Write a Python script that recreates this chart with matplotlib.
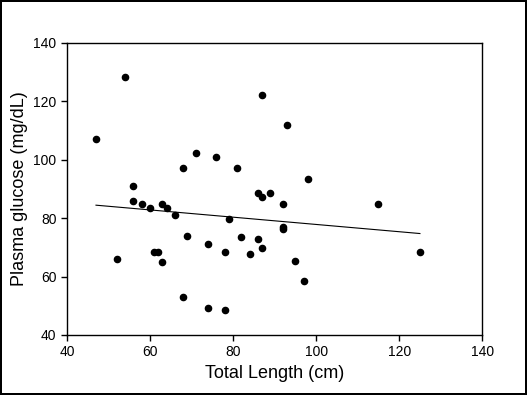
import matplotlib
matplotlib.use("Agg")
import matplotlib.pyplot as plt

# data
total_length = [47, 54, 56, 56, 58, 60, 63, 64, 66, 52, 61, 62, 63,
                68, 71, 76, 81, 87, 86, 87, 89, 93, 98, 69, 74, 78,
                79, 82, 84, 86, 87, 68, 74, 78, 92, 115, 92, 92, 95,
                97, 125]
glucose = [107.1, 128.3, 90.9, 85.9, 84.8, 83.5, 84.8, 83.5, 81.0, 66.0,
           68.5, 68.5, 64.9, 97.1, 102.2, 100.9, 97.1, 122.1, 88.4, 87.2,
           88.4, 112.0, 93.4, 74.0, 71.0, 68.5, 79.7, 73.6, 67.7, 72.8,
           69.8, 52.9, 49.1, 48.6, 84.8, 84.8, 77.0, 76.1, 65.3, 58.6,
           68.5]
fit_x = [47, 125]
fit_y = [84.4, 74.7]

plt.rcParams["font.family"] = ["Liberation Sans", "DejaVu Sans"]

fig = plt.figure(figsize=(5.27, 3.95), dpi=100, linewidth=1.5, edgecolor="black")
ax = fig.add_axes([0.127, 0.152, 0.788, 0.74])

ax.scatter(total_length, glucose, s=20, color="black", zorder=3)
ax.plot(fit_x, fit_y, color="black", linewidth=0.8)

ax.set_xlim(40, 140)
ax.set_ylim(40, 140)
ax.set_xticks(range(40, 141, 20))
ax.set_yticks(range(40, 141, 20))
ax.tick_params(direction="out", length=4, width=1, labelsize=10, top=False, right=False)
ax.set_xlabel("Total Length (cm)", fontsize=13)
ax.set_ylabel("Plasma glucose (mg/dL)", fontsize=13)
for s in ax.spines.values():
    s.set_linewidth(1)

fig.savefig("out.png", dpi=100)
